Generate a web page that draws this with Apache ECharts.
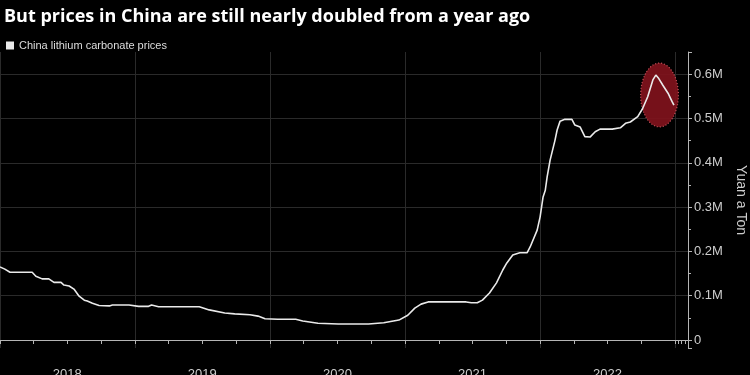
<!DOCTYPE html>
<html><head><meta charset="utf-8">
<script src="https://cdn.jsdelivr.net/npm/echarts@6/dist/echarts.min.js"></script>
<style>html,body{margin:0;padding:0;background:#000;}#c{width:750px;height:375px;}</style>
</head><body><div id="c"></div>
<script>
const titleText = 'But prices in China are still nearly doubled from a year ago';
const seriesName = 'China lithium carbonate prices';
const axisName = 'Yuan a Ton';
const yearLabels = ['2018', '2019', '2020', '2021', '2022'];
const dates = [
  '2018-01-01','2018-01-14','2018-01-28','2018-03-29','2018-04-08','2018-04-25','2018-05-13','2018-05-27',
  '2018-06-15','2018-06-23','2018-07-07','2018-07-20','2018-08-03','2018-08-17','2018-08-25','2018-09-08',
  '2018-09-26','2018-10-24','2018-11-01','2018-12-16','2019-01-11','2019-02-07','2019-02-15','2019-03-06',
  '2019-05-28','2019-06-02','2019-06-24','2019-07-21','2019-09-01','2019-09-28','2019-11-08','2019-11-30',
  '2019-12-19','2020-01-22','2020-03-11','2020-03-30','2020-05-10','2020-07-04','2020-09-24','2020-11-04',
  '2020-12-15','2021-01-08','2021-01-27','2021-02-13','2021-03-04','2021-06-15','2021-06-29','2021-07-15',
  '2021-07-29','2021-08-17','2021-09-05','2021-09-22','2021-10-03','2021-10-19','2021-11-07','2021-11-27',
  '2021-12-05','2021-12-24','2022-01-01','2022-01-09','2022-01-15','2022-01-20','2022-01-28','2022-02-10',
  '2022-02-16','2022-02-24','2022-03-09','2022-03-28','2022-04-05','2022-04-19','2022-05-02','2022-05-16',
  '2022-05-30','2022-06-12','2022-07-15','2022-08-06','2022-08-20','2022-09-02','2022-09-22','2022-10-05',
  '2022-10-19','2022-11-02','2022-11-10','2022-11-18','2022-11-29','2022-12-13','2022-12-24','2022-12-29'
];
const prices = [
  165000,160000,153000,153000,144000,138000,138000,130000,
  130000,124000,122000,115000,99000,90000,88000,83000,
  78000,77000,79000,79000,76000,76000,79000,75000,
  75000,77000,75000,68000,61000,59000,57000,54000,
  48000,47000,47000,43000,38000,36000,36000,39000,
  45000,56000,72000,81000,86000,86000,84000,84000,
  90000,106000,129000,158000,174000,192000,197000,197000,
  210000,248000,278000,323000,338000,368000,406000,450000,
  474000,494000,498000,498000,485000,481000,459000,458000,
  470000,476000,476000,479000,489000,492000,504000,522000,
  549000,587000,598000,590000,575000,557000,538000,530000
];
// highlight ellipse (data coordinates)
const highlightCenter = ['2022-11-20', 553000];
const highlightCorner = ['2022-09-30', 625000];

const chart = echarts.init(document.getElementById('c'));
const DAY = 86400000;
const xMin = +new Date('2018-01-01');
const xMax = +new Date('2023-02-05');
const grid = '#2a2a2a';
const axisCol = '#b5b5b5';
const option = {
  backgroundColor: '#000',
  animation: false,
  title: {
    text: titleText, left: -1, top: 3,
    textStyle: { color: '#fff', fontSize: 18, fontWeight: 'bold', fontFamily: 'Open Sans' }
  },
  legend: {
    data: [seriesName], left: 1, top: 35, icon: 'rect', itemWidth: 8, itemHeight: 8, itemGap: 3,
    textStyle: { color: '#ddd', fontSize: 11, fontFamily: 'Liberation Sans' }
  },
  grid: { left: 0, right: 62, top: 52, bottom: 27, containLabel: false, outerBoundsMode: 'none' },
  xAxis: [{
    type: 'time',
    min: xMin, max: xMax,
    minInterval: 365 * DAY, maxInterval: 366 * DAY,
    axisLine: { show: true, lineStyle: { color: axisCol, width: 1 } },
    axisTick: { show: true, length: 4, lineStyle: { color: axisCol } },
    minorTick: { show: true, splitNumber: 4, length: 4, lineStyle: { color: axisCol } },
    axisLabel: { show: false },
    splitLine: { show: true, lineStyle: { color: grid, width: 1 } }
  }, {
    type: 'value',
    min: xMin, max: xMax, position: 'bottom',
    axisLine: { show: false }, axisTick: { show: false }, splitLine: { show: false },
    axisLabel: {
      customValues: yearLabels.map(y => +new Date(y + '-07-02')),
      formatter: v => String(new Date(v).getFullYear()),
      color: '#ccc', fontSize: 13, fontFamily: 'Liberation Sans', margin: 20
    }
  }],
  yAxis: {
    type: 'value', position: 'right',
    min: -18000, max: 650000, splitNumber: 7,
    axisLine: { show: true, lineStyle: { color: axisCol, width: 1 } },
    axisTick: { show: true, length: 4, lineStyle: { color: axisCol } },
    minorTick: { show: true, splitNumber: 2, length: 3, lineStyle: { color: axisCol } },
    axisLabel: {
      showMinLabel: false, showMaxLabel: false,
      formatter: v => v === 0 ? '0' : (v / 1e6).toFixed(1) + 'M',
      color: '#ccc', fontSize: 13, fontFamily: 'Liberation Sans', margin: 6
    },
    splitLine: { show: true, showMinLine: false, showMaxLine: false, lineStyle: { color: grid, width: 1 } },
    name: axisName, nameLocation: 'middle', nameRotate: -90, nameGap: 44,
    nameTextStyle: { color: '#ccc', fontSize: 14, fontFamily: 'Liberation Sans' }
  },
  series: [{
    name: seriesName, type: 'line', showSymbol: false, z: 5, xAxisIndex: 0,
    data: dates.map((d, i) => [+new Date(d), prices[i]]),
    itemStyle: { color: '#eaeaea' },
    lineStyle: { color: '#eaeaea', width: 1.6 }
  }]
};
chart.setOption(option);
const c = chart.convertToPixel({ xAxisIndex: 0, yAxisIndex: 0 }, [+new Date(highlightCenter[0]), highlightCenter[1]]);
const k = chart.convertToPixel({ xAxisIndex: 0, yAxisIndex: 0 }, [+new Date(highlightCorner[0]), highlightCorner[1]]);
chart.setOption({
  graphic: [{
    type: 'ellipse', z: 1, silent: true,
    shape: { cx: c[0], cy: c[1], rx: Math.abs(c[0] - k[0]), ry: Math.abs(c[1] - k[1]) },
    style: { fill: 'rgba(128,18,28,0.92)', stroke: '#c9555e', lineWidth: 1.2, lineDash: [1, 2] }
  }]
});
</script>
</body></html>
